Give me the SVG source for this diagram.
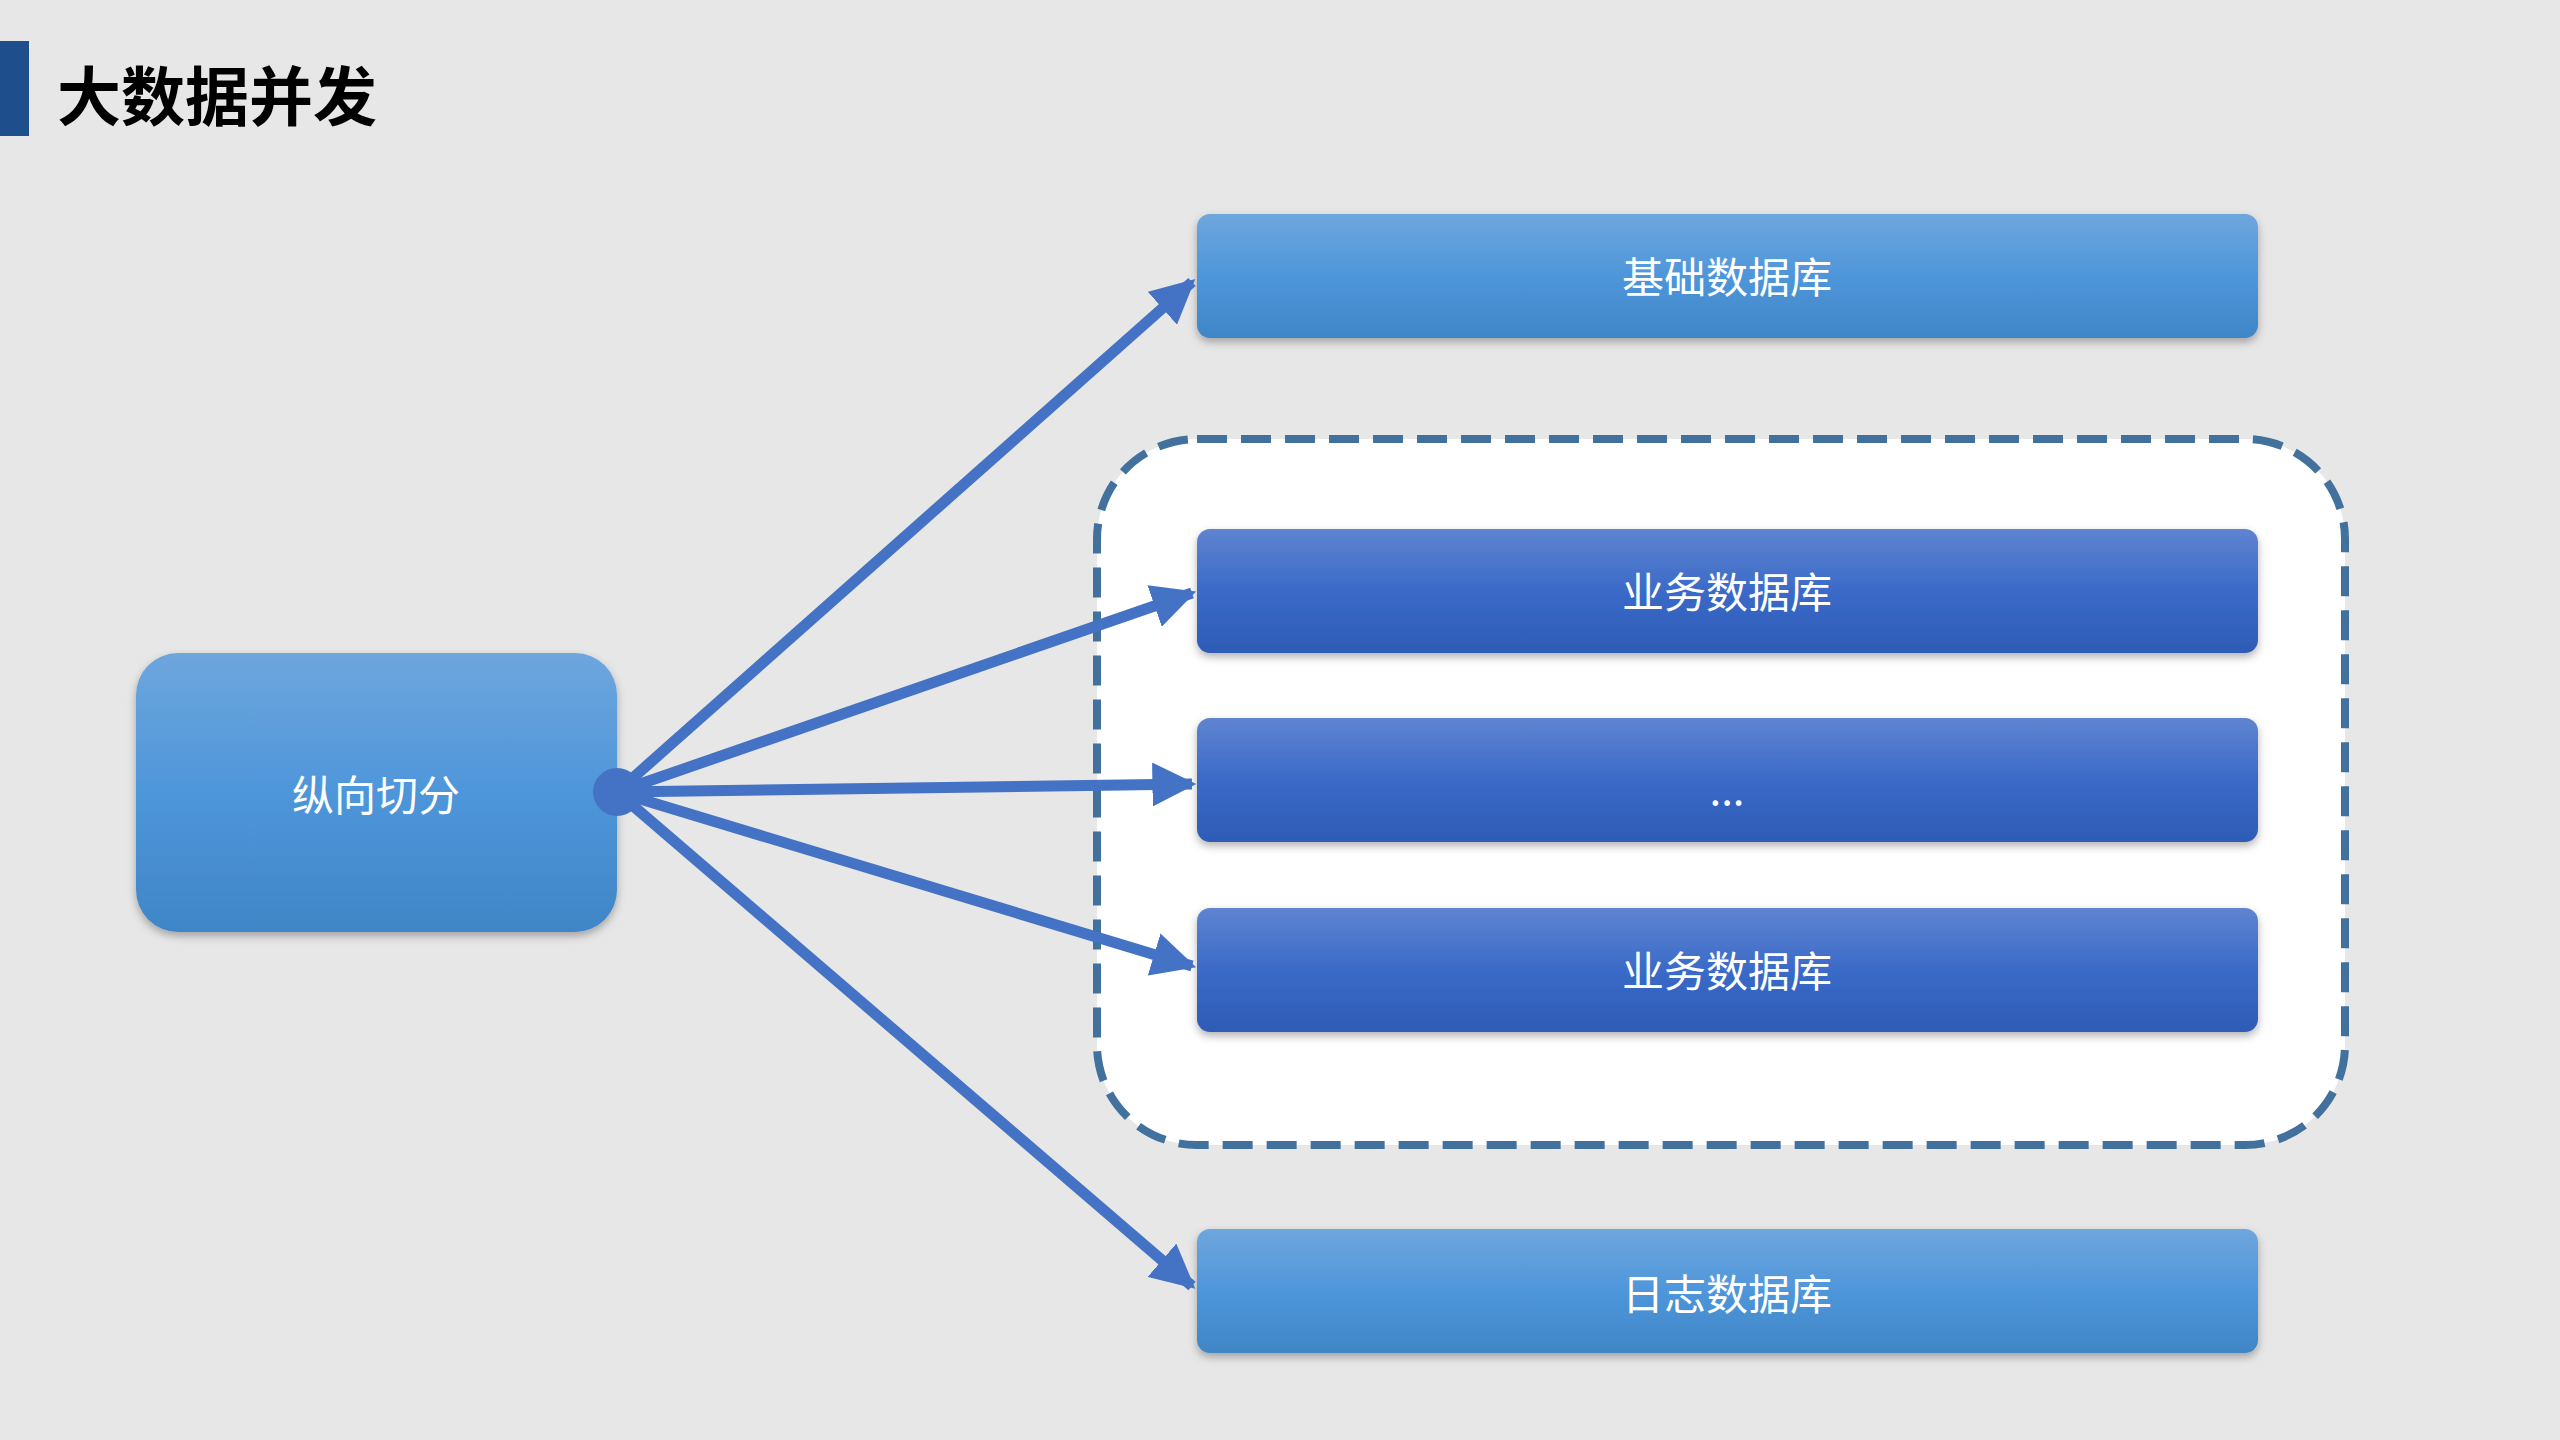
<svg xmlns="http://www.w3.org/2000/svg" width="2560" height="1440" viewBox="0 0 2560 1440">
<defs>
<linearGradient id="gl" x1="0" y1="0" x2="0" y2="1"><stop offset="0" stop-color="#6EA6DD"/><stop offset="0.5" stop-color="#4E96DA"/><stop offset="1" stop-color="#3F86C6"/></linearGradient>
<linearGradient id="gd" x1="0" y1="0" x2="0" y2="1"><stop offset="0" stop-color="#5F84D0"/><stop offset="0.5" stop-color="#3A6AC8"/><stop offset="1" stop-color="#2E5BB6"/></linearGradient>
<filter id="sh" x="-5%" y="-20%" width="110%" height="150%"><feDropShadow dx="0" dy="4" stdDeviation="4" flood-color="#000" flood-opacity="0.3"/></filter>
<marker id="ah" viewBox="0 0 10 10" refX="9" refY="5" markerWidth="4" markerHeight="4" orient="auto" markerUnits="strokeWidth"><path d="M0,0 L10,5 L0,10 z" fill="#4472C4"/></marker>
<style>
.t{font-family:"Noto Sans CJK SC","Noto Sans",sans-serif;fill:#fff;font-size:42px;text-anchor:middle;dominant-baseline:central}
.c{stroke:#4472C4;stroke-width:11;fill:none;marker-end:url(#ah)}
</style>
</defs>
<rect width="2560" height="1440" fill="#E7E7E7"/>
<rect x="0" y="41" width="29" height="95" fill="#1F4E8C"/>
<text x="57" y="120" font-family="'Noto Sans CJK SC',sans-serif" font-weight="bold" font-size="64" fill="#000">大数据并发</text>
<rect x="1097" y="439" width="1248" height="706" rx="100" fill="#fff" stroke="#41719C" stroke-width="8" stroke-dasharray="30,14"/>
<g id="n0"><rect x="136" y="653" width="481" height="279" rx="42" fill="url(#gl)" filter="url(#sh)"/><text class="t" x="376" y="792">纵向切分</text></g>
<g id="n1"><rect x="1197" y="214" width="1061" height="124" rx="13" fill="url(#gl)" filter="url(#sh)"/><text class="t" x="1727" y="274">基础数据库</text></g>
<g id="n2"><rect x="1197" y="529" width="1061" height="124" rx="13" fill="url(#gd)" filter="url(#sh)"/><text class="t" x="1727" y="589">业务数据库</text></g>
<g id="n3"><rect x="1197" y="718" width="1061" height="124" rx="13" fill="url(#gd)" filter="url(#sh)"/><text class="t" x="1727" y="786" font-size="30">...</text></g>
<g id="n4"><rect x="1197" y="908" width="1061" height="124" rx="13" fill="url(#gd)" filter="url(#sh)"/><text class="t" x="1727" y="968">业务数据库</text></g>
<g id="n5"><rect x="1197" y="1229" width="1061" height="124" rx="13" fill="url(#gl)" filter="url(#sh)"/><text class="t" x="1727" y="1291">日志数据库</text></g>
<g id="connectors">
<circle cx="617" cy="792" r="24" fill="#4472C4"/>
<line class="c" x1="617" y1="792" x2="1192" y2="282"/>
<line class="c" x1="617" y1="792" x2="1192" y2="593"/>
<line class="c" x1="617" y1="792" x2="1192" y2="784"/>
<line class="c" x1="617" y1="792" x2="1192" y2="966"/>
<line class="c" x1="617" y1="792" x2="1192" y2="1286"/>
</g>
</svg>
